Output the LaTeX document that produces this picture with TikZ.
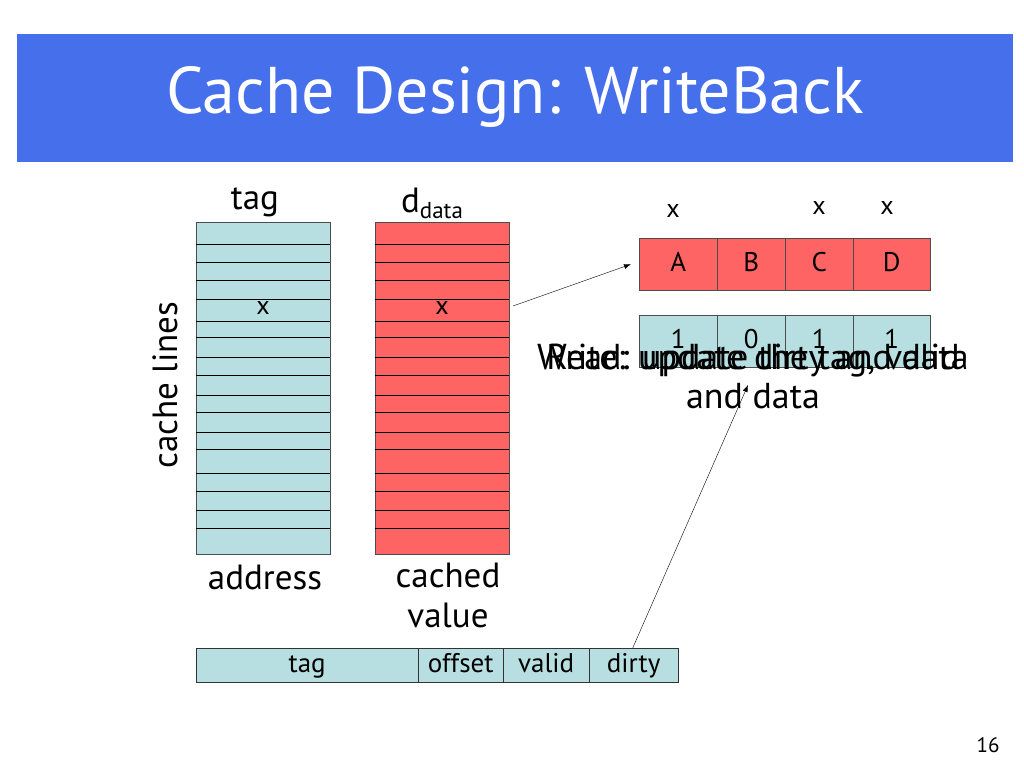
\documentclass[tikz,border=0pt]{standalone}
\usepackage{fontspec}
\setmainfont{PT Sans}
\usetikzlibrary{arrows.meta}
\definecolor{slideblue}{HTML}{4670EB}
\definecolor{tagblue}{HTML}{B7DEE0}
\definecolor{datared}{HTML}{FF6464}
\begin{document}
\begin{tikzpicture}[x=1pt,y=-1pt, every node/.style={font=\fontsize{35}{40}\selectfont},
  column/.style={draw=black!70,minimum width=134pt,minimum height=332pt,inner sep=0pt,anchor=north west},
  cell/.style={draw=black!70,minimum height=52pt,inner sep=0pt,text height=19pt,text depth=5pt,anchor=north west,font=\fontsize{27}{30}\selectfont},
  field/.style={draw=black!80,fill=tagblue,minimum height=34pt,inner sep=0pt,text height=19pt,text depth=5pt,anchor=north west,font=\fontsize{27}{30}\selectfont},
  xmark/.style={font=\fontsize{26}{28}\selectfont},
  arr/.style={-{Latex[length=7pt,width=5pt]},thin}]
\useasboundingbox (0,0) rectangle (1024,768);
\fill[slideblue] (17,34) rectangle (1013,162);
\node[text=white,font=\fontsize{66}{72}\selectfont] (title) at (515,97) {Cache Design: WriteBack};
% cache columns
\node[column,fill=tagblue] (tags) at (196,222) {};
\node[column,fill=datared] (data) at (375,222) {};
\foreach \y in {244,262,280,299,321,337,357,375,395,412,432,449,473,491,510,528} {
  \draw (tags.west |- 0,\y) -- (tags.east |- 0,\y);
  \draw (data.west |- 0,\y) -- (data.east |- 0,\y);
}
\node[xmark] (tagx) at (263,308) {x};
\node[xmark] (datax) at (442,308) {x};
\coordinate (rowend) at (513,306);
\node (taglbl) at (255,202) {tag};
\node (datalbl) at (432,203) {d\raisebox{-0.35ex}{\fontsize{23}{23}\selectfont data}};
\node (addr) at (265,577) {address};
\node[align=center] (cval) at (448,595) {cached\\value};
\node[rotate=90] (lines) at (165,385) {cache lines};
% cache line blocks and dirty bits
\node[cell,fill=datared,minimum width=78pt] (dA) at (639,238) {A};
\node[cell,fill=datared,minimum width=68pt] (dB) at (717,238) {B};
\node[cell,fill=datared,minimum width=68pt] (dC) at (785,238) {C};
\node[cell,fill=datared,minimum width=77pt] (dD) at (853,238) {D};
\node[cell,fill=tagblue,minimum width=78pt] (b1) at (639,315) {1};
\node[cell,fill=tagblue,minimum width=68pt] (b2) at (717,315) {0};
\node[cell,fill=tagblue,minimum width=68pt] (b3) at (785,315) {1};
\node[cell,fill=tagblue,minimum width=77pt] (b4) at (853,315) {1};
\node[xmark] (xA) at (673,211) {x};
\node[xmark] (xC) at (819,208) {x};
\node[xmark] (xD) at (887,208) {x};
\draw[arr] (rowend) -- ([xshift=-8pt]dA.west);
% overlapping notes
\node[align=center,anchor=north,font=\fontsize{36}{39}\selectfont] (readnote) at (753,340) {Read: update the tag, valid\\and data};
\node[anchor=north,font=\fontsize{36}{39}\selectfont] (writenote) at (753,340) {Write: update dirty and data};
\coordinate (notetip) at (748,385);
% address fields
\node[field,minimum width=222pt] (ftag) at (196,648) {tag};
\node[field,minimum width=85pt] (foff) at (418,648) {offset};
\node[field,minimum width=86pt] (fvalid) at (503,648) {valid};
\node[field,minimum width=89pt] (fdirty) at (589,648) {dirty};
\draw[arr] ([xshift=-1pt]fdirty.north) -- (notetip);
\node[font=\fontsize{21}{24}\selectfont] (pagenum) at (988,745) {16};
\end{tikzpicture}
\end{document}
